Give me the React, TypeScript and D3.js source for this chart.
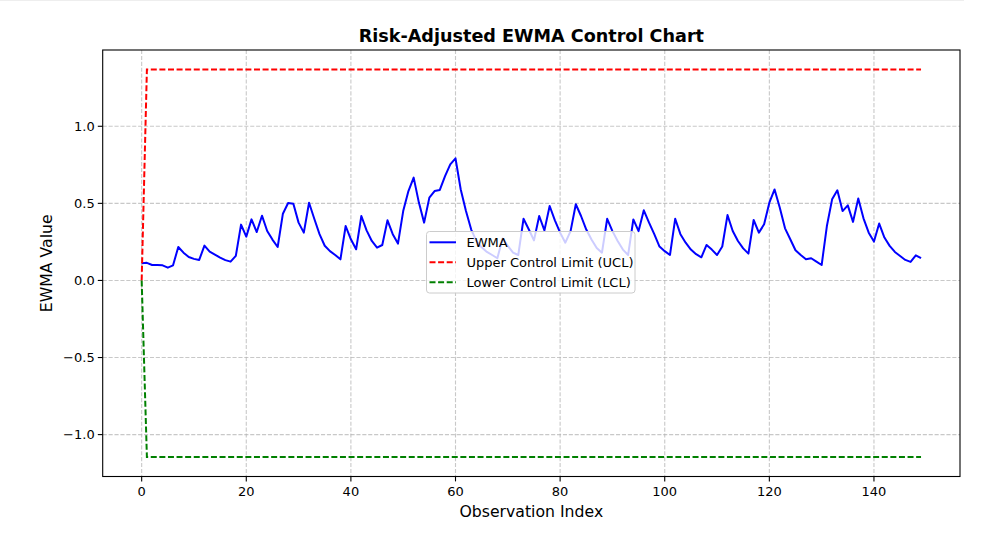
import React, { useEffect, useRef } from 'react';
import * as d3 from 'd3';

// EWMA values (index 0..149)
const ewmaValues: number[] = [
  0.111, 0.114, 0.100, 0.100, 0.098, 0.083, 0.098, 0.217, 0.180, 0.152,
  0.140, 0.133, 0.226, 0.187, 0.168, 0.148, 0.132, 0.122, 0.159, 0.362,
  0.284, 0.396, 0.314, 0.420, 0.321, 0.265, 0.217, 0.433, 0.502, 0.498,
  0.375, 0.310, 0.504, 0.400, 0.300, 0.225, 0.190, 0.165, 0.137, 0.353,
  0.267, 0.202, 0.418, 0.325, 0.256, 0.213, 0.230, 0.390, 0.300, 0.239,
  0.450, 0.580, 0.667, 0.505, 0.375, 0.537, 0.580, 0.587, 0.677, 0.753,
  0.792, 0.590, 0.450, 0.330, 0.256, 0.215, 0.185, 0.165, 0.144, 0.272,
  0.224, 0.180, 0.165, 0.400, 0.332, 0.260, 0.418, 0.325, 0.483, 0.390,
  0.310, 0.245, 0.320, 0.494, 0.418, 0.330, 0.265, 0.210, 0.180, 0.400,
  0.320, 0.256, 0.200, 0.165, 0.396, 0.320, 0.455, 0.375, 0.300, 0.220,
  0.190, 0.165, 0.400, 0.300, 0.245, 0.200, 0.170, 0.150, 0.230, 0.200,
  0.165, 0.220, 0.424, 0.321, 0.256, 0.208, 0.174, 0.392, 0.310, 0.364,
  0.504, 0.590, 0.472, 0.338, 0.267, 0.196, 0.165, 0.137, 0.144, 0.122,
  0.100, 0.353, 0.526, 0.585, 0.450, 0.487, 0.380, 0.532, 0.403, 0.310,
  0.252, 0.369, 0.278, 0.224, 0.185, 0.159, 0.133, 0.120, 0.163, 0.144,
];

// control limits: start at 0, then constant
const uclValue = 1.369;
const lclValue = -1.146;
const uclValues: number[] = ewmaValues.map((_, i) => (i === 0 ? 0 : uclValue));
const lclValues: number[] = ewmaValues.map((_, i) => (i === 0 ? 0 : lclValue));

const xTicks = [0, 20, 40, 60, 80, 100, 120, 140];
const yTicks = [-1.0, -0.5, 0.0, 0.5, 1.0];

const legendItems = [
  { label: 'EWMA', color: '#0000ff', dash: null as string | null },
  { label: 'Upper Control Limit (UCL)', color: '#ff0000', dash: '6,2.6' },
  { label: 'Lower Control Limit (LCL)', color: '#008000', dash: '6,2.6' },
];

const FONT = '"DejaVu Sans", sans-serif';

const App: React.FC = () => {
  const svgRef = useRef<SVGSVGElement>(null);

  useEffect(() => {
    if (!svgRef.current) return;
    const width = 993;
    const height = 550;
    const margin = { top: 50, right: 33, bottom: 73.5, left: 102.7 };

    const svg = d3.select(svgRef.current);
    svg.selectAll('*').remove();
    svg.attr('width', width).attr('height', height);

    // faint strip at the very top of the screenshot
    svg.append('line')
      .attr('x1', 0).attr('x2', 964).attr('y1', 0.5).attr('y2', 0.5)
      .style('stroke', '#eeeeee').style('stroke-width', 1);

    const n = ewmaValues.length;
    const xPad = (n - 1) * 0.05;
    const yMin = lclValue;
    const yMax = uclValue;
    const yPad = (yMax - yMin) * 0.05;

    const x = d3.scaleLinear()
      .domain([-xPad, n - 1 + xPad])
      .range([margin.left, width - margin.right]);
    const y = d3.scaleLinear()
      .domain([yMin - yPad, yMax + yPad])
      .range([height - margin.bottom, margin.top]);

    const top = margin.top;
    const bottom = height - margin.bottom;
    const left = margin.left;
    const right = width - margin.right;

    // grid
    const grid = svg.append('g');
    xTicks.forEach(t => {
      grid.append('line')
        .attr('x1', x(t)).attr('x2', x(t)).attr('y1', top).attr('y2', bottom)
        .style('stroke', '#b0b0b0').style('stroke-opacity', 0.7)
        .style('stroke-width', 1.1).style('stroke-dasharray', '4.1,1.8');
    });
    yTicks.forEach(t => {
      grid.append('line')
        .attr('x1', left).attr('x2', right).attr('y1', y(t)).attr('y2', y(t))
        .style('stroke', '#b0b0b0').style('stroke-opacity', 0.7)
        .style('stroke-width', 1.1).style('stroke-dasharray', '4.1,1.8');
    });

    const line = d3.line<number>()
      .x((_, i) => x(i))
      .y(d => y(d));

    const plot = svg.append('g');
    plot.append('path')
      .datum(ewmaValues)
      .attr('d', line)
      .style('fill', 'none').style('stroke', '#0000ff').style('stroke-width', 2)
      .style('stroke-linejoin', 'round');
    plot.append('path')
      .datum(uclValues)
      .attr('d', line)
      .style('fill', 'none').style('stroke', '#ff0000').style('stroke-width', 2)
      .style('stroke-dasharray', '6,2.6');
    plot.append('path')
      .datum(lclValues)
      .attr('d', line)
      .style('fill', 'none').style('stroke', '#008000').style('stroke-width', 2)
      .style('stroke-dasharray', '6,2.6');

    // frame
    svg.append('rect')
      .attr('x', left).attr('y', top)
      .attr('width', right - left).attr('height', bottom - top)
      .style('fill', 'none').style('stroke', '#000').style('stroke-width', 1.1);

    // x ticks
    const xAxis = svg.append('g');
    xTicks.forEach(t => {
      xAxis.append('line')
        .attr('x1', x(t)).attr('x2', x(t)).attr('y1', bottom).attr('y2', bottom + 4.9)
        .style('stroke', '#000').style('stroke-width', 1.1);
      xAxis.append('text')
        .attr('x', x(t)).attr('y', bottom + 19)
        .attr('text-anchor', 'middle')
        .style('font-family', FONT).style('font-size', '13px').style('fill', '#000')
        .text(d3.format('d')(t));
    });

    // y ticks
    const yAxis = svg.append('g');
    yTicks.forEach(t => {
      yAxis.append('line')
        .attr('x1', left - 4.9).attr('x2', left).attr('y1', y(t)).attr('y2', y(t))
        .style('stroke', '#000').style('stroke-width', 1.1);
      yAxis.append('text')
        .attr('x', left - 8).attr('y', y(t))
        .attr('dy', '0.35em')
        .attr('text-anchor', 'end')
        .style('font-family', FONT).style('font-size', '13px').style('fill', '#000')
        .text(d3.format('.1f')(t).replace('-', '\u2212'));
    });

    // axis labels & title
    svg.append('text')
      .attr('x', (left + right) / 2).attr('y', 517)
      .attr('text-anchor', 'middle')
      .style('font-family', FONT).style('font-size', '15.7px')
      .text('Observation Index');
    svg.append('text')
      .attr('transform', `translate(52,${(top + bottom) / 2}) rotate(-90)`)
      .attr('text-anchor', 'middle')
      .style('font-family', FONT).style('font-size', '15.7px')
      .text('EWMA Value');
    svg.append('text')
      .attr('x', (left + right) / 2).attr('y', 42)
      .attr('text-anchor', 'middle')
      .style('font-family', FONT).style('font-size', '17.6px').style('font-weight', 'bold')
      .text('Risk-Adjusted EWMA Control Chart');

    // legend
    const legend = svg.append('g').attr('transform', 'translate(426.5,231.5)');
    legend.append('rect')
      .attr('width', 208.5).attr('height', 61.5).attr('rx', 3)
      .style('fill', '#fff').style('fill-opacity', 0.8)
      .style('stroke', '#cccccc').style('stroke-width', 1);
    legendItems.forEach((item, i) => {
      const cy = 10.8 + i * 20;
      legend.append('line')
        .attr('x1', 3).attr('x2', 29.5).attr('y1', cy).attr('y2', cy)
        .style('stroke', item.color).style('stroke-width', 2)
        .style('stroke-dasharray', item.dash ?? 'none');
      legend.append('text')
        .attr('x', 40).attr('y', cy).attr('dy', '0.35em')
        .style('font-family', FONT).style('font-size', '13px').style('fill', '#000')
        .text(item.label);
    });
  }, []);

  return (
    <svg ref={svgRef} style={{ position: 'absolute', left: 0, top: 0 }}></svg>
  );
};

export default App;
